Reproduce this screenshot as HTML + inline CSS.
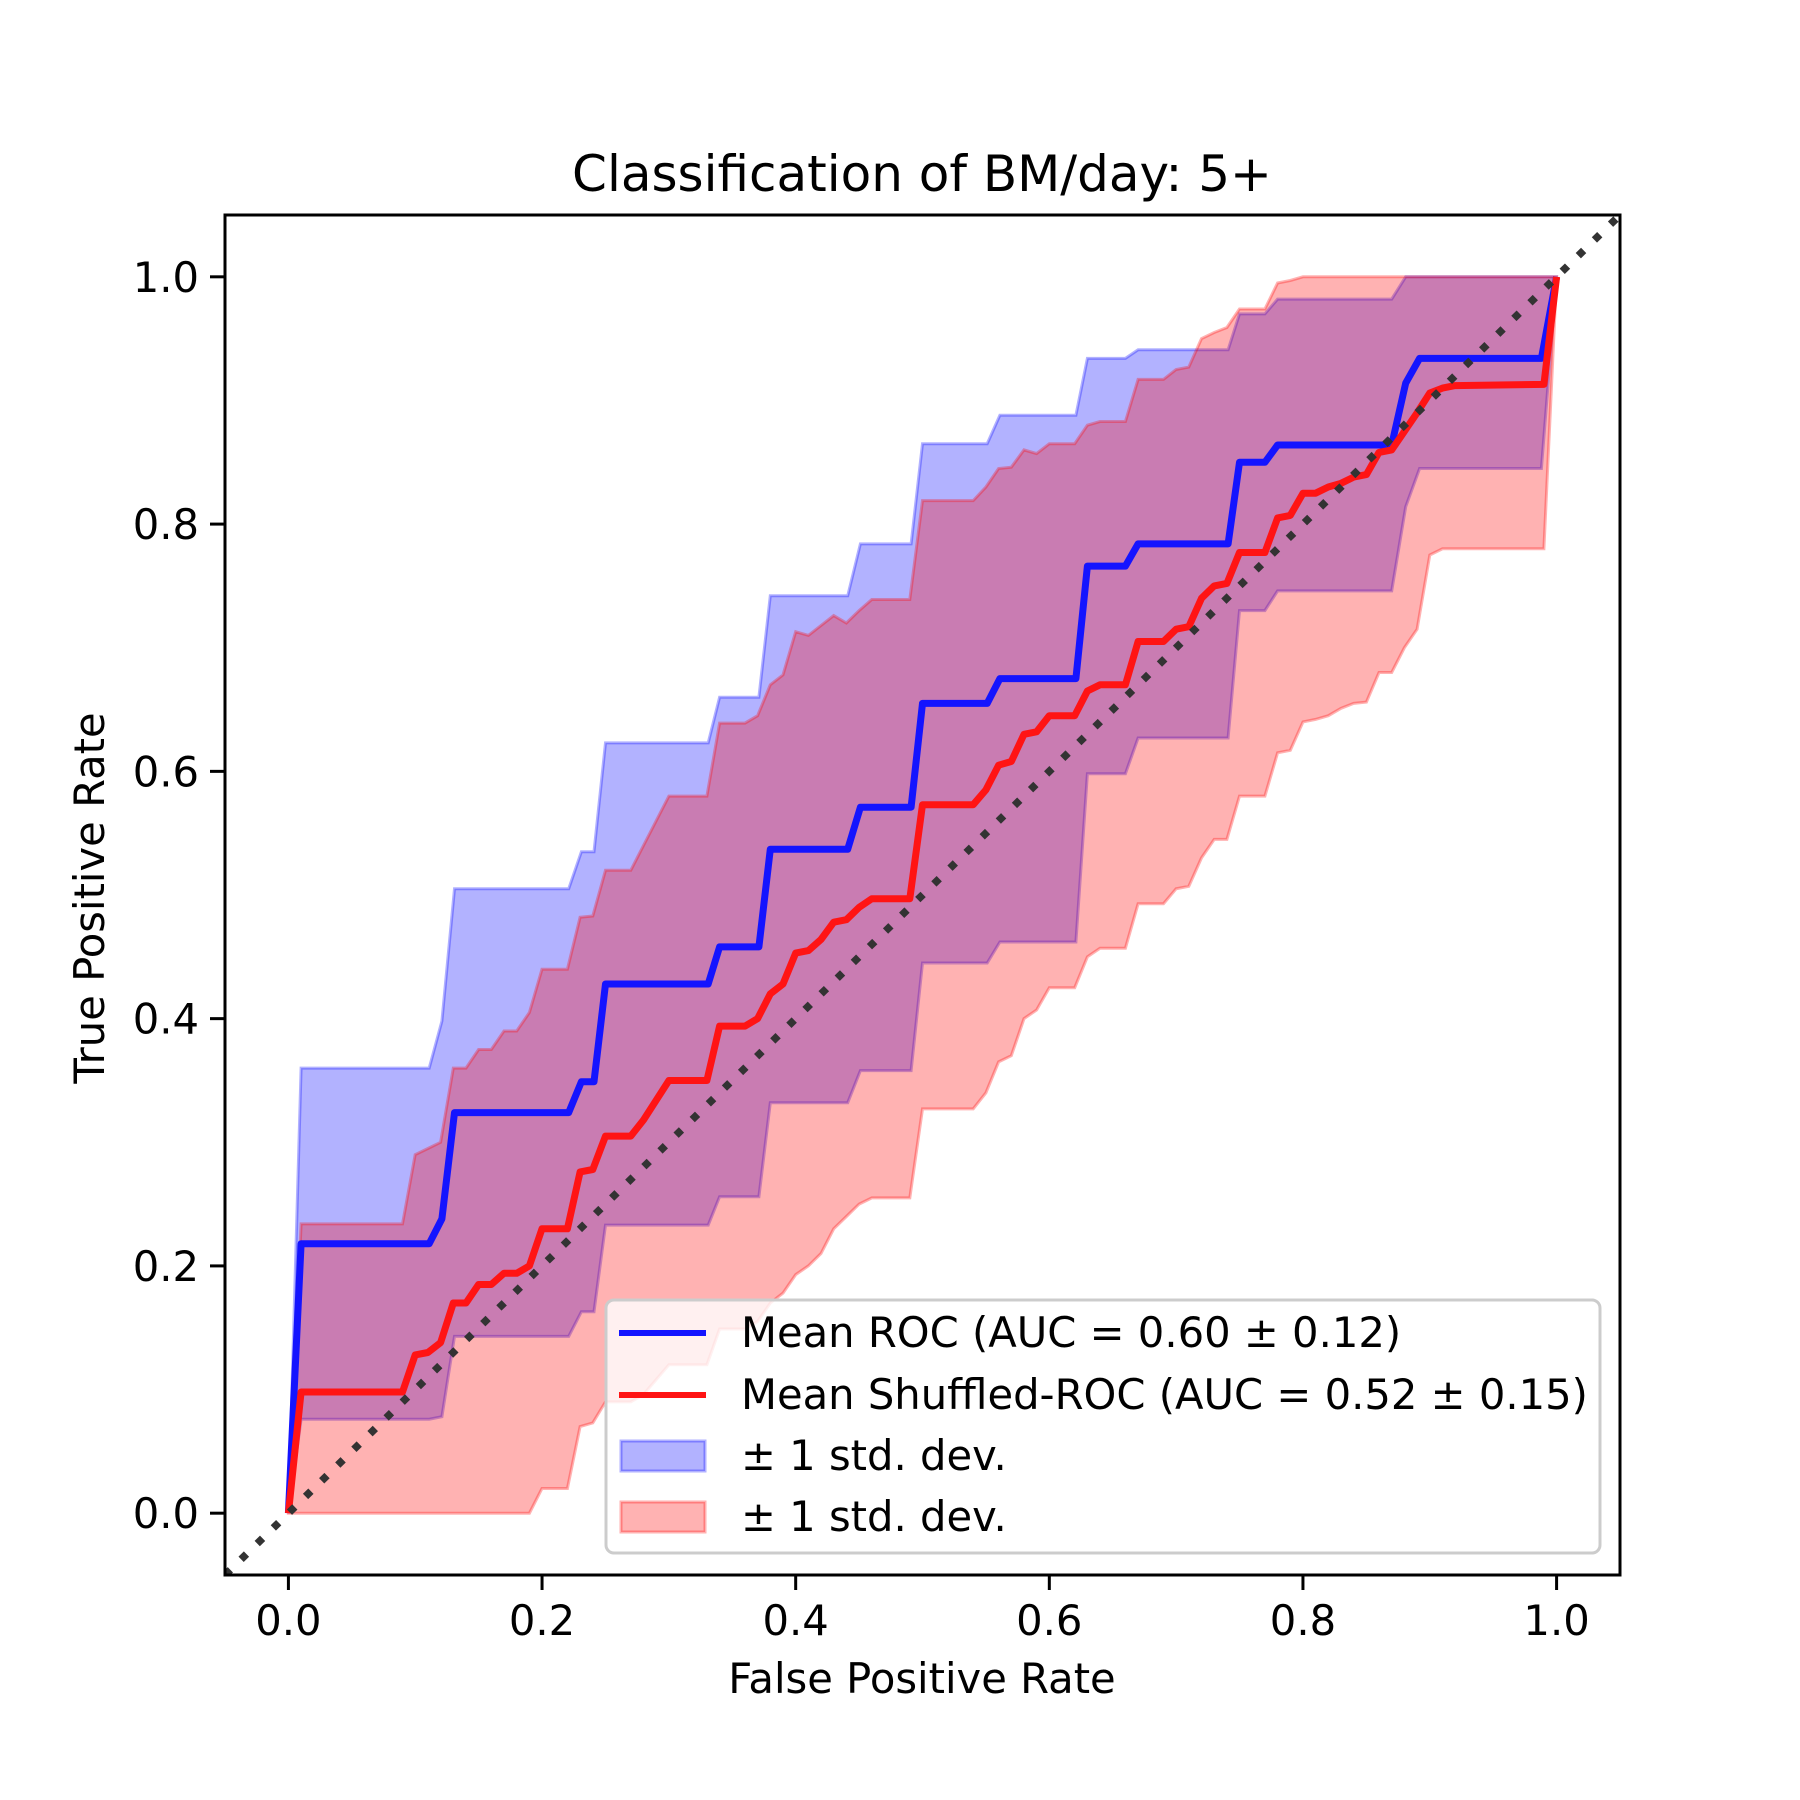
<!DOCTYPE html>
<html><head><meta charset="utf-8"><style>
html,body{margin:0;padding:0;background:#fff;}
svg{display:block;font-family:"DejaVu Sans","Liberation Sans",sans-serif;}
</style></head><body>
<svg id="chart" width="1800" height="1800" viewBox="0 0 1800 1800">
<rect width="1800" height="1800" fill="#fff"/>
<g id="plot"></g>
<text x="922" y="191" font-size="50" text-anchor="middle">Classification of BM/day: 5+</text>
<text x="922" y="1693" font-size="41.7" text-anchor="middle">False Positive Rate</text>
<text transform="translate(104,898) rotate(-90)" font-size="41.7" text-anchor="middle">True Positive Rate</text>
<g id="ticks"></g>
<g transform="translate(-2,-5)">
<rect x="608" y="1305" width="994" height="253" rx="8" fill="#fff" fill-opacity="0.8" stroke="#cccccc" stroke-width="3"/>
<line x1="621" y1="1338" x2="708" y2="1338" stroke="#1414ff" stroke-width="6"/>
<text x="743" y="1352" font-size="41.7">Mean ROC (AUC = 0.60 ± 0.12)</text>
<line x1="621" y1="1400" x2="708" y2="1400" stroke="#ff1414" stroke-width="6"/>
<text x="743" y="1414" font-size="41.7">Mean Shuffled-ROC (AUC = 0.52 ± 0.15)</text>
<rect x="623" y="1446" width="84" height="30" fill="#0000ff" fill-opacity="0.3" stroke="#0000ff" stroke-opacity="0.3" stroke-width="3"/>
<text x="743" y="1475" font-size="41.7">± 1 std. dev.</text>
<rect x="623" y="1507" width="84" height="30" fill="#ff0000" fill-opacity="0.3" stroke="#ff0000" stroke-opacity="0.3" stroke-width="3"/>
<text x="743" y="1536" font-size="41.7">± 1 std. dev.</text>
</g>
</svg>
<script>
const blueFpr=[0,0.01,0.111,0.121,0.131,0.221,0.231,0.241,0.25,0.331,0.34,0.371,0.38,0.441,0.451,0.491,0.5,0.551,0.561,0.621,0.63,0.66,0.67,0.741,0.75,0.77,0.78,0.87,0.881,0.892,0.988,1];
const blueTpr=[0,0.218,0.218,0.238,0.324,0.324,0.349,0.349,0.428,0.428,0.458,0.458,0.537,0.537,0.571,0.571,0.655,0.655,0.675,0.675,0.766,0.766,0.784,0.784,0.85,0.85,0.864,0.864,0.914,0.934,0.934,1];
const blueStd=[0,0.142,0.142,0.16,0.181,0.181,0.186,0.186,0.195,0.195,0.202,0.202,0.205,0.205,0.213,0.213,0.21,0.21,0.213,0.213,0.168,0.168,0.157,0.157,0.12,0.12,0.118,0.118,0.1,0.089,0.089,0];
const redFpr=[0,0.01,0.09,0.1,0.11,0.12,0.13,0.14,0.15,0.16,0.17,0.18,0.19,0.2,0.22,0.23,0.24,0.25,0.27,0.28,0.3,0.33,0.34,0.36,0.37,0.38,0.39,0.4,0.41,0.42,0.43,0.44,0.45,0.46,0.49,0.5,0.54,0.55,0.56,0.57,0.58,0.59,0.6,0.62,0.63,0.64,0.66,0.67,0.69,0.7,0.71,0.72,0.73,0.74,0.75,0.77,0.78,0.79,0.8,0.81,0.82,0.83,0.84,0.85,0.86,0.87,0.88,0.89,0.9,0.91,0.92,0.99,1];
const redTpr=[0,0.098,0.098,0.128,0.13,0.138,0.17,0.17,0.185,0.185,0.194,0.194,0.2,0.23,0.23,0.276,0.278,0.305,0.305,0.318,0.35,0.35,0.394,0.394,0.4,0.42,0.428,0.453,0.455,0.464,0.478,0.48,0.49,0.497,0.497,0.573,0.573,0.585,0.605,0.608,0.63,0.632,0.645,0.645,0.665,0.67,0.67,0.705,0.705,0.715,0.717,0.74,0.75,0.752,0.777,0.777,0.805,0.807,0.825,0.825,0.83,0.833,0.838,0.84,0.858,0.86,0.875,0.89,0.906,0.91,0.912,0.913,1];
const redStd=[0,0.136,0.136,0.162,0.165,0.162,0.19,0.19,0.19,0.19,0.196,0.196,0.205,0.21,0.21,0.206,0.205,0.215,0.215,0.222,0.23,0.23,0.245,0.245,0.245,0.25,0.25,0.26,0.255,0.254,0.248,0.24,0.24,0.242,0.242,0.246,0.246,0.245,0.24,0.238,0.23,0.225,0.22,0.22,0.215,0.213,0.213,0.212,0.212,0.21,0.21,0.21,0.205,0.207,0.197,0.197,0.19,0.19,0.185,0.183,0.185,0.182,0.183,0.184,0.178,0.18,0.175,0.175,0.131,0.13,0.132,0.133,0];
const tickValues=[0,0.2,0.4,0.6,0.8,1.0];
const tickLabels=["0.0","0.2","0.4","0.6","0.8","1.0"];

const NS="http://www.w3.org/2000/svg";
const L=225,R=1620,T=215,B=1575,MIN=-0.05,MAX=1.05;
const sx=v=>L+(v-MIN)/(MAX-MIN)*(R-L);
const sy=v=>B-(v-MIN)/(MAX-MIN)*(B-T);
const plot=document.getElementById('plot');
function mk(tag,attrs,parent){const e=document.createElementNS(NS,tag);for(const k in attrs)e.setAttribute(k,attrs[k]);parent.appendChild(e);return e;}
function band(xs,m,s){
  const up=xs.map((x,i)=>sx(x).toFixed(1)+','+sy(Math.min(1,m[i]+s[i])).toFixed(1));
  const lo=xs.map((x,i)=>sx(x).toFixed(1)+','+sy(Math.max(0,m[i]-s[i])).toFixed(1)).reverse();
  return up.concat(lo).join(' ');
}
function line(xs,ys){return xs.map((x,i)=>sx(x).toFixed(1)+','+sy(ys[i]).toFixed(1)).join(' ');}
const defs=mk('defs',{},plot);
const cp=mk('clipPath',{id:'clip'},defs);
mk('rect',{x:L,y:T,width:R-L,height:B-T},cp);
const g=mk('g',{'clip-path':'url(#clip)'},plot);


const bb=mk('polygon',{points:band(blueFpr,blueTpr,blueStd),fill:'#0000ff','fill-opacity':0.3,stroke:'#0000ff','stroke-opacity':0.3,'stroke-width':3},g);


const rb=mk('polygon',{points:band(redFpr,redTpr,redStd),fill:'#ff0000','fill-opacity':0.3,stroke:'#ff0000','stroke-opacity':0.3,'stroke-width':3},g);


const bl=mk('polyline',{points:line(blueFpr,blueTpr),fill:'none',stroke:'#1414ff','stroke-width':7,'stroke-linejoin':'round'},g);


const rl=mk('polyline',{points:line(redFpr,redTpr),fill:'none',stroke:'#ff1414','stroke-width':7,'stroke-linejoin':'round'},g);


const dg=mk('line',{x1:sx(-0.05),y1:sy(-0.05),x2:sx(1.05),y2:sy(1.05),stroke:'#333333','stroke-width':7.5,'stroke-dasharray':'7.5 15'},g);


const fr=mk('rect',{x:L,y:T,width:R-L,height:B-T,fill:'none',stroke:'#000','stroke-width':3},plot);


const tg=document.getElementById('ticks');
tickValues.forEach((v,i)=>{
  const tx=mk('line',{x1:sx(v),y1:B,x2:sx(v),y2:B+15,stroke:'#000','stroke-width':3},tg);
  
  
  const lx=mk('text',{x:sx(v),y:B+60,'font-size':41.7,'text-anchor':'middle'},tg);
  lx.textContent=tickLabels[i];
  
  
  const ty=mk('line',{x1:L-15,y1:sy(v),x2:L,y2:sy(v),stroke:'#000','stroke-width':3},tg);
  
  
  const ly=mk('text',{x:L-26,y:sy(v)+15,'font-size':41.7,'text-anchor':'end'},tg);
  ly.textContent=tickLabels[i];
  
  
});
</script>
</body></html>
